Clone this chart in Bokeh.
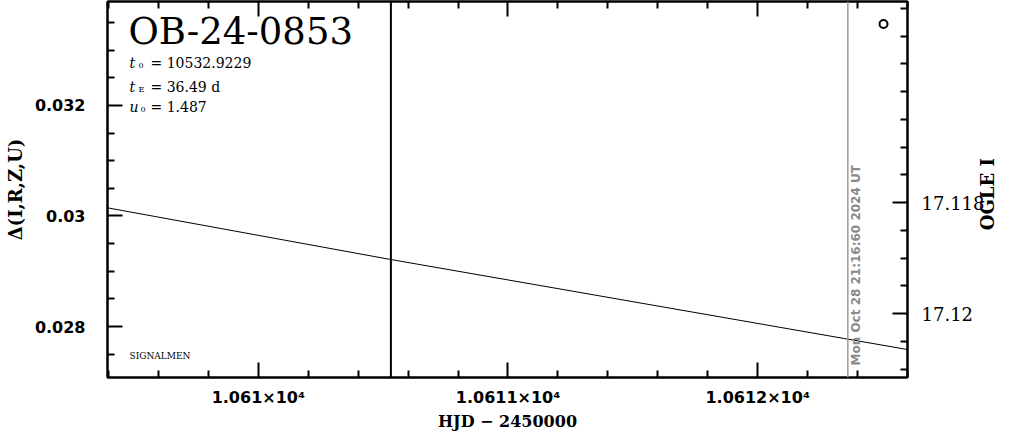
import math
from bokeh.plotting import figure
from bokeh.models import (Range1d, LinearAxis, FixedTicker, Label, Span,
                          CustomLabelingPolicy)
from bokeh.embed import file_html
from bokeh.resources import INLINE

# ---------------- data ----------------
event_name = "OB-24-0853"
par_t0 = "10532.9229"
par_tE = "36.49 d"
par_u0 = "1.487"
credit = "SIGNALMEN"

model_hjd = [10609.396, 10610.531, 10612.6]
model_delta = [0.030148, 0.029212, 0.027583]

obs_hjd = [10612.504]
obs_delta = [0.033475]

current_hjd = 10610.531
now_hjd = 10612.361
now_label = "Mon Oct 28 21:16:60 2024 UT"

x_range = [10609.396, 10612.6]
x_major = [10610, 10611, 10612]
x_labels = ["1.061×10⁴", "1.0611×10⁴", "1.0612×10⁴"]
x_minor = [10609.4, 10609.6, 10609.8, 10610.2, 10610.4, 10610.6, 10610.8,
           10611.2, 10611.4, 10611.6, 10611.8, 10612.2, 10612.4, 10612.6]

y_range = [0.027077, 0.033882]
y_major = [0.028, 0.030, 0.032]
y_labels = ["0.028", "0.03", "0.032"]
y_minor = [0.0275, 0.0285, 0.029, 0.0295, 0.0305, 0.031, 0.0315,
           0.0325, 0.033, 0.0335]

mag_range = [17.121153, 17.114378]
mag_major = [17.118, 17.12]
mag_labels = ["17.118", "17.12"]
mag_minor = [17.1145, 17.115, 17.1155, 17.116, 17.1165, 17.117, 17.1175,
             17.1185, 17.119, 17.1195, 17.1205, 17.121]
mag_title_at = [17.1185]
mag_title = ["OGLE I"]

# ---------------- figure ----------------
p = figure(width=1011, height=434,
           x_range=Range1d(*x_range), y_range=Range1d(*y_range),
           output_backend="svg", toolbar_location=None,
           x_axis_location=None, y_axis_location=None,
           min_border_left=107, min_border_right=103,
           min_border_top=1, min_border_bottom=57)
p.styles = {"position": "absolute", "top": "0px", "left": "0px"}
p.grid.visible = False
p.outline_line_color = "black"
p.outline_line_width = 2
p.background_fill_color = "white"
p.border_fill_color = "white"
p.extra_y_ranges = {"mag": Range1d(*mag_range)}


def style(ax):
    ax.major_tick_in = 15
    ax.major_tick_out = 0
    ax.minor_tick_in = 7
    ax.minor_tick_out = 0
    ax.major_tick_line_width = 2
    ax.minor_tick_line_width = 2
    ax.axis_line_width = 2
    ax.major_tick_line_color = "black"
    ax.minor_tick_line_color = "black"
    ax.axis_line_color = "black"
    ax.axis_label_text_font_style = "bold"
    ax.axis_label_text_color = "black"
    ax.major_label_text_color = "black"


xt = FixedTicker(ticks=x_major, minor_ticks=x_minor)
yt = FixedTicker(ticks=y_major, minor_ticks=y_minor)
mt = FixedTicker(ticks=mag_major, minor_ticks=mag_minor)

xb = LinearAxis(ticker=xt, axis_label="HJD − 2450000")
style(xb)
xb.major_label_overrides = dict(zip(x_major, x_labels))
xb.major_label_text_font = "DejaVu Sans"
xb.major_label_text_font_style = "bold"
xb.major_label_text_font_size = "16px"
xb.major_label_standoff = 10
xb.axis_label_text_font = "DejaVu Serif"
xb.axis_label_text_font_size = "16px"
xb.axis_label_standoff = 2
p.add_layout(xb, "below")

xa = LinearAxis(ticker=xt)
style(xa)
xa.major_label_text_font_size = "1px"
xa.major_label_standoff = -4
xa.major_label_policy = CustomLabelingPolicy(code="return []")
p.add_layout(xa, "above")

yl = LinearAxis(ticker=yt, axis_label="Δ(I,R,Z,U)")
style(yl)
yl.major_label_overrides = dict(zip(y_major, y_labels))
yl.major_label_text_font = "DejaVu Sans"
yl.major_label_text_font_style = "bold"
yl.major_label_text_font_size = "16px"
yl.major_label_standoff = 22
yl.axis_label_text_font = "DejaVu Serif"
yl.axis_label_text_font_size = "18px"
yl.axis_label_standoff = 6
p.add_layout(yl, "left")

yr = LinearAxis(ticker=mt, y_range_name="mag")
style(yr)
yr.major_label_overrides = dict(zip(mag_major, mag_labels))
yr.major_label_text_font = "DejaVu Serif"
yr.major_label_text_font_size = "18px"
yr.major_label_standoff = 14
p.add_layout(yr, "right")

# right-hand title ("OGLE I"), drawn as the single label of an outer axis
yr2 = LinearAxis(ticker=FixedTicker(ticks=mag_title_at), y_range_name="mag")
yr2.major_label_overrides = dict(zip(mag_title_at, mag_title))
yr2.major_label_orientation = math.pi / 2
yr2.major_label_text_font = "DejaVu Serif"
yr2.major_label_text_font_style = "bold"
yr2.major_label_text_font_size = "18px"
yr2.major_label_text_color = "black"
yr2.major_label_text_baseline = "top"
yr2.major_label_standoff = -6
yr2.major_tick_line_color = None
yr2.minor_tick_line_color = None
yr2.axis_line_color = None
p.add_layout(yr2, "right")

# ---------------- marks ----------------
p.line(model_hjd, model_delta, line_color="black", line_width=1)
p.scatter(obs_hjd, obs_delta, marker="circle", size=8, fill_color=None,
          line_color="black", line_width=2)
p.add_layout(Span(location=current_hjd, dimension="height",
                  line_color="black", line_width=2))
p.add_layout(Span(location=now_hjd, dimension="height",
                  line_color="#9a9a9a", line_width=1.5))

# ---------------- texts (screen units relative to the frame) ----------------
FB = 377  # page y of the frame bottom
FL = 107  # page x of the frame left


def lab(x, ybase, text, size, font="DejaVu Serif", style="normal",
        color="black", **kw):
    l = Label(x=x - FL, y=FB - ybase, x_units="screen", y_units="screen",
              text=text, text_font=font, text_font_size=size,
              text_font_style=style, text_color=color,
              text_baseline="alphabetic", text_align="left", **kw)
    p.add_layout(l)


lab(128, 31, event_name, "37px")
rows = [("t", "0", par_t0, 62), ("t", "E", par_tE, 86), ("u", "0", par_u0, 106)]
for var, sub, val, base in rows:
    lab(129, base, var, "14px", style="italic")
    lab(138 if var == "t" else 140, base + 3, sub, "8px")
    lab(150, base, "= " + val, "14px")
lab(129, 355, credit, "9px")

p.add_layout(Label(x=now_hjd, y=FB - 365, x_units="data", y_units="screen",
                   x_offset=8, text=now_label, angle=math.pi / 2,
                   text_font="DejaVu Sans", text_font_style="bold",
                   text_font_size="12px", text_color="#8a8a8a",
                   text_align="left", text_baseline="middle"))

open("out.html", "w").write(file_html(p, INLINE))
